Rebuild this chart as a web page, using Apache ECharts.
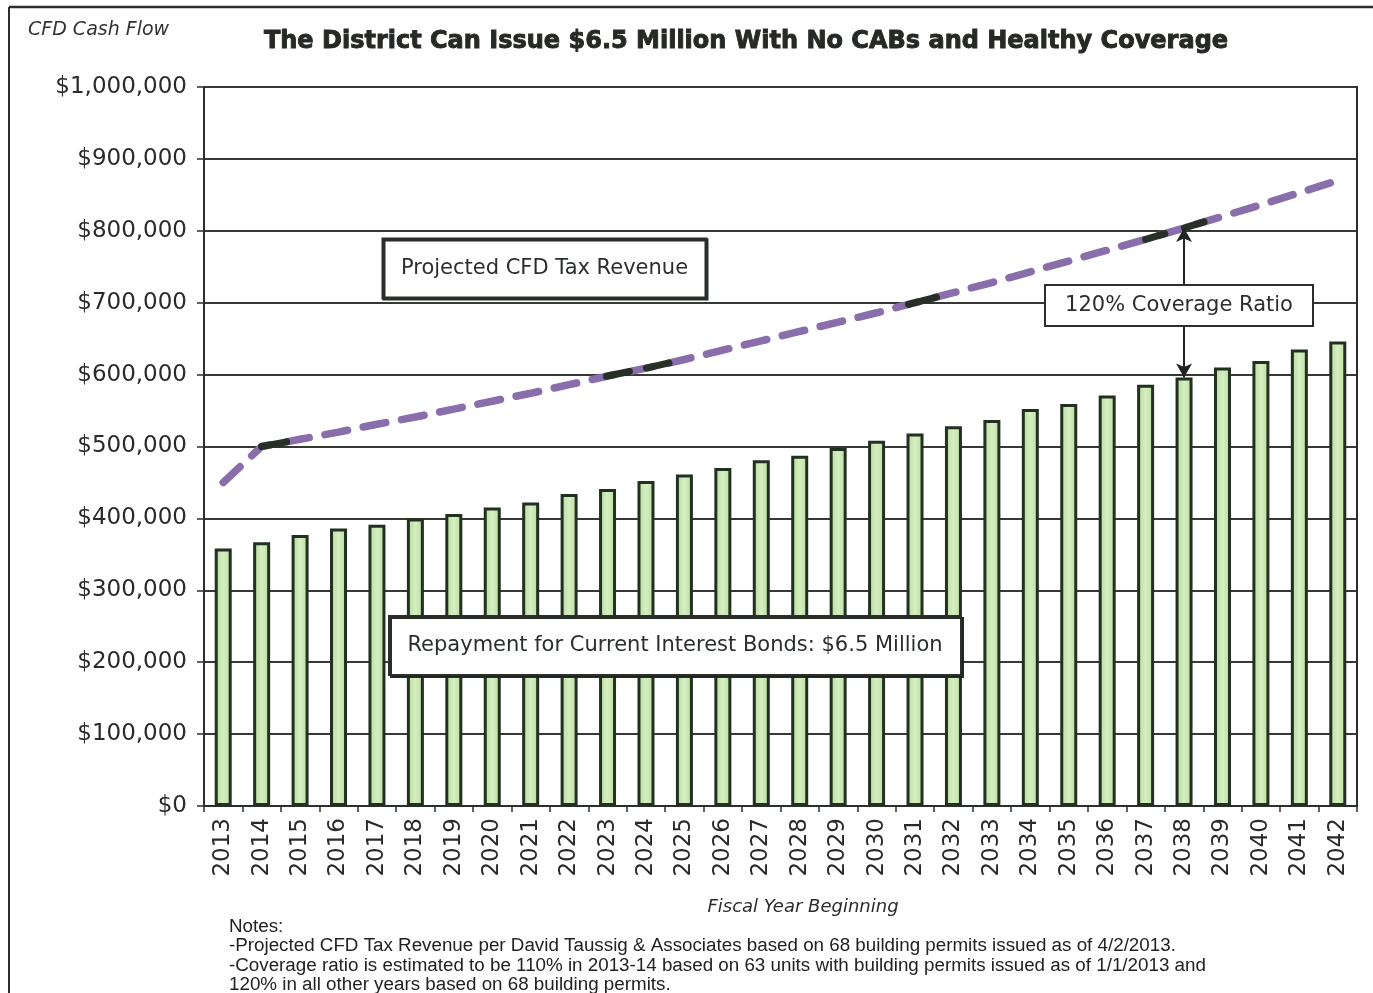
<!DOCTYPE html>
<html>
<head>
<meta charset="utf-8">
<script src="https://cdn.jsdelivr.net/npm/echarts@6/dist/echarts.min.js"></script>
<style>
  html, body { margin: 0; padding: 0; background: #ffffff; }
  #chart { width: 1373px; height: 993px; }
</style>
</head>
<body>
<div id="chart"></div>
<script>
// Fiscal years (category labels)
const years = ['2013','2014','2015','2016','2017','2018','2019','2020','2021','2022',
  '2023','2024','2025','2026','2027','2028','2029','2030','2031','2032',
  '2033','2034','2035','2036','2037','2038','2039','2040','2041','2042'];

// Annual debt service on the current interest bonds
const repayment = [358000, 367000, 377000, 386000, 391000, 400000, 406000, 415000, 422000, 434000,
  441000, 452000, 461000, 470000, 481000, 487000, 498000, 508000, 518000, 528000,
  537000, 552000, 559000, 571000, 586000, 596000, 610000, 619000, 635000, 646000];

// Projected special tax revenue
const revenue = [450000, 500000, 510000, 520000, 531000, 541000, 552000, 563000, 574000, 586000,
  598000, 609000, 621000, 634000, 647000, 660000, 673000, 686000, 700000, 714000,
  728000, 743000, 758000, 773000, 788000, 804000, 820000, 836000, 853000, 870000];

// Stretches of the revenue line drawn in dark ink (start/end as fractional year index)
const darkDashes = [[1.0, 1.65], [9.97, 10.57], [11.01, 11.6], [17.83, 18.56], [24.0, 24.5], [25.01, 25.52]];

// Year where the coverage arrow is drawn
const coverageYear = '2038';

const yTickStep = 100000;
const yMax = 1000000;

const INK = '#2b2f2b';
const FONT = '"DejaVu Sans", Verdana, sans-serif';

function revenueAt(t) {
  const i = Math.floor(t);
  const f = t - i;
  const a = revenue[i];
  const b = revenue[Math.min(i + 1, revenue.length - 1)];
  return a + (b - a) * f;
}

const chart = echarts.init(document.getElementById('chart'), null, { renderer: 'canvas' });

const ci = years.indexOf(coverageYear);

const darkSeries = darkDashes.map(function (d) {
  return {
    type: 'line',
    xAxisIndex: 1,
    yAxisIndex: 0,
    data: [[d[0], revenueAt(d[0])], [d[1], revenueAt(d[1])]],
    symbol: 'none',
    silent: true,
    z: 4,
    lineStyle: { color: '#263026', width: 7, cap: 'round' }
  };
});

function box(x, y, w, h, text, fontSize, border, shadow) {
  return {
    type: 'group',
    x: x, y: y,
    z: 100,
    children: [
      {
        type: 'rect',
        shape: { x: 0, y: 0, width: w, height: h },
        style: {
          fill: '#ffffff', stroke: INK, lineWidth: border,
          shadowColor: 'rgba(30,35,30,0.95)', shadowOffsetX: shadow, shadowOffsetY: shadow, shadowBlur: 0
        },
        z: 100
      },
      {
        type: 'text',
        x: w / 2, y: h / 2,
        style: {
          text: text, fill: INK, font: fontSize + 'px ' + FONT,
          textAlign: 'center', textVerticalAlign: 'middle'
        },
        z: 101
      }
    ]
  };
}

const option = {
  animation: false,
  backgroundColor: '#ffffff',
  grid: {
    left: 204, right: 16, top: 87, bottom: 187,
    show: true, borderColor: INK, borderWidth: 2, backgroundColor: 'transparent'
  },
  xAxis: [
    {
      type: 'category',
      data: years,
      boundaryGap: true,
      axisLine: { lineStyle: { color: INK, width: 2 } },
      axisTick: { show: true, length: 6, lineStyle: { color: INK, width: 1.5 } },
      axisLabel: {
        rotate: 90, margin: 12, color: '#2a2a2a', fontSize: 23, fontFamily: FONT, interval: 0
      }
    },
    {
      type: 'value',
      min: -0.5, max: years.length - 0.5,
      show: false
    }
  ],
  yAxis: {
    type: 'value',
    min: 0, max: yMax, interval: yTickStep,
    axisLine: { show: true, onZero: false, lineStyle: { color: INK, width: 2 } },
    axisTick: { show: true, length: 7, lineStyle: { color: INK, width: 1.5 } },
    splitLine: { show: true, lineStyle: { color: '#353835', width: 1.8 } },
    axisLabel: {
      margin: 17, color: '#2a2a2a', fontSize: 23, fontFamily: FONT,
      formatter: function (v) { return '$' + v.toLocaleString('en-US'); }
    }
  },
  series: [
    {
      type: 'bar',
      xAxisIndex: 0,
      data: repayment,
      barWidth: 17,
      z: 2,
      itemStyle: {
        color: new echarts.graphic.LinearGradient(0, 0, 1, 0, [
          { offset: 0, color: '#b3da93' },
          { offset: 0.5, color: '#d6eec4' },
          { offset: 1, color: '#b6dc96' }
        ]),
        borderColor: '#223022',
        borderWidth: 3
      },
      markLine: {
        silent: true,
        symbol: ['arrow', 'arrow'],
        symbolSize: [12, 14],
        label: { show: false },
        lineStyle: { color: '#1f241f', width: 2, type: 'solid' },
        z: 6,
        data: [[
          { coord: [coverageYear, revenue[ci]] },
          { coord: [coverageYear, repayment[ci]] }
        ]]
      }
    },
    {
      type: 'line',
      xAxisIndex: 1,
      data: revenue.map(function (v, i) { return [i, v]; }),
      symbol: 'none',
      z: 3,
      lineStyle: { color: '#8a6dab', width: 7.5, type: [23, 16], cap: 'round' }
    }
  ].concat(darkSeries),
  graphic: [
    // page frame
    { type: 'line', shape: { x1: 9, y1: 7, x2: 1373, y2: 7 }, style: { stroke: INK, lineWidth: 2.5 } },
    { type: 'line', shape: { x1: 9, y1: 7, x2: 9, y2: 993 }, style: { stroke: INK, lineWidth: 2 } },
    {
      type: 'text', x: 28, y: 30,
      style: { text: 'CFD Cash Flow', fill: '#333', font: 'italic 19px ' + FONT, textVerticalAlign: 'middle' }
    },
    {
      type: 'text', x: 746, y: 42,
      style: {
        text: 'The District Can Issue $6.5 Million With No CABs and Healthy Coverage',
        fill: '#262a26', font: 'bold 24px ' + FONT, textAlign: 'center', textVerticalAlign: 'middle',
        stroke: '#262a26', lineWidth: 0.9
      }
    },
    box(383, 239, 323, 59, 'Projected CFD Tax Revenue', 21, 3, 1),
    box(389, 616, 572, 59, 'Repayment for Current Interest Bonds: $6.5 Million', 21, 2, 2),
    box(1045, 285, 268, 41, '120% Coverage Ratio', 21, 2, 0),
    {
      type: 'text', x: 803, y: 907,
      style: { text: 'Fiscal Year Beginning', fill: '#2a2a2a', font: 'italic 18px ' + FONT, textAlign: 'center', textVerticalAlign: 'middle' }
    },
    {
      type: 'text', x: 229, y: 917,
      style: {
        text: 'Notes:\n-Projected CFD Tax Revenue per David Taussig & Associates based on 68 building permits issued as of 4/2/2013.\n-Coverage ratio is estimated to be 110% in 2013-14 based on 63 units with building permits issued as of 1/1/2013 and\n120% in all other years based on 68 building permits.',
        fill: '#222', font: '18.8px "Liberation Sans", Arial, sans-serif',
        lineHeight: 19.5, textVerticalAlign: 'top'
      }
    }
  ]
};

chart.setOption(option);
</script>
</body>
</html>
